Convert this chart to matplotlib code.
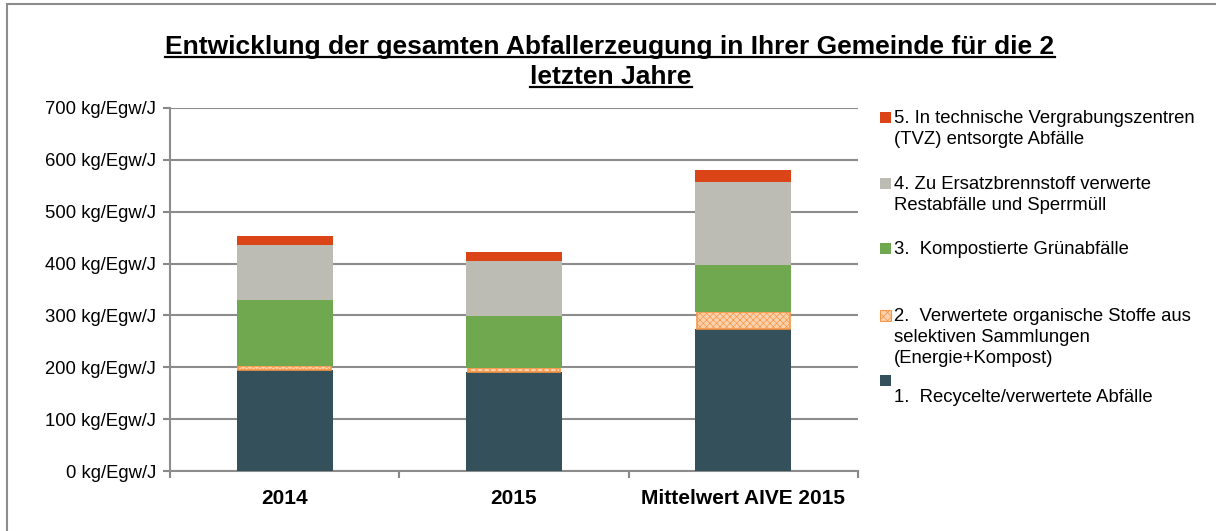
import matplotlib.pyplot as plt
import numpy as np
from matplotlib.patches import Rectangle
from matplotlib.lines import Line2D

plt.rcParams['font.family'] = ['Liberation Sans', 'DejaVu Sans']
plt.rcParams['hatch.linewidth'] = 0.5

categories = ['2014', '2015', 'Mittelwert AIVE 2015']
recycled = [195, 191, 273]
organic = [7, 7, 33]
green_waste = [128, 100, 92]
fuel = [106, 107, 159]
landfill = [17, 18, 23]

series_labels = [
    '1.  Recycelte/verwertete Abfälle',
    '2.  Verwertete organische Stoffe aus\nselektiven Sammlungen\n(Energie+Kompost)',
    '3.  Kompostierte Grünabfälle',
    '4. Zu Ersatzbrennstoff verwerte\nRestabfälle und Sperrmüll',
    '5. In technische Vergrabungszentren\n(TVZ) entsorgte Abfälle',
]
colors = ['#34515b', '#fcd2ae', '#70a84f', '#bcbbb4', '#da4416']
yticks = [0, 100, 200, 300, 400, 500, 600, 700]

fig = plt.figure(figsize=(12.16, 5.31), dpi=100)
ax = fig.add_axes([170 / 1216, 60 / 531, 688 / 1216, 363 / 531])

x = np.arange(len(categories))
width = 0.42
values = [recycled, organic, green_waste, fuel, landfill]
bottom = np.zeros(len(categories))
for i, vals in enumerate(values):
    if i == 1:
        ax.bar(x, vals, width * 0.96, bottom=bottom, color=colors[i],
               edgecolor='#f79646', hatch='xxxxx', linewidth=1.2, zorder=3)
    else:
        ax.bar(x, vals, width, bottom=bottom, color=colors[i], linewidth=0, zorder=3)
    bottom += np.array(vals)

ax.set_xlim(-0.5, 2.5)
ax.set_ylim(0, 700)
ax.set_yticks(yticks)
ax.set_yticklabels([f'{v} kg/Egw/J' for v in yticks], fontsize=13.3)
ax.set_xticks(x)
ax.set_xticklabels(categories, fontsize=15, fontweight='bold')
ax.tick_params(axis='x', length=0, pad=13)
ax.set_xticks([-0.5, 0.5, 1.5, 2.5], minor=True)
ax.tick_params(axis='x', which='minor', length=5, color='#888888', width=1.5)
ax.tick_params(axis='y', length=5, color='#888888', width=1.5, pad=5)
ax.yaxis.grid(True, color='#8c8c8c', linewidth=1.5, zorder=0)
ax.set_axisbelow(True)
for s in ['top', 'right']:
    ax.spines[s].set_visible(False)
ax.spines['left'].set_color('#8c8c8c')
ax.spines['left'].set_linewidth(1.5)
ax.spines['bottom'].set_color('#8c8c8c')
ax.spines['bottom'].set_linewidth(1.5)

# outer frame
fig.patches.append(Rectangle((7 / 1216, -0.1), 1.2, (531 - 4) / 531 + 0.1,
                             transform=fig.transFigure, fill=False,
                             edgecolor='#8c8c8c', linewidth=1.5))

# title with underline
t1 = fig.text(610 / 1216, 1 - 47 / 531,
              'Entwicklung der gesamten Abfallerzeugung in Ihrer Gemeinde für die 2',
              ha='center', va='center', fontsize=19, fontweight='bold')
t2 = fig.text(611 / 1216, 1 - 77 / 531, 'letzten Jahre',
              ha='center', va='center', fontsize=19, fontweight='bold')
renderer = fig.canvas.get_renderer()
for t in (t1, t2):
    bb = t.get_window_extent(renderer).transformed(fig.transFigure.inverted())
    yline = bb.y0 + 0.004
    fig.lines.append(Line2D([bb.x0, bb.x1], [yline, yline], transform=fig.transFigure,
                            color='black', linewidth=1.6))

# legend (top to bottom: 5 .. 1)
leg_y = [117, 183, 248, 315, 380]
for k, idx in enumerate([4, 3, 2, 1, 0]):
    y = 1 - leg_y[k] / 531
    if idx == 1:
        fig.patches.append(Rectangle((880 / 1216, y - 5.5 / 531), 11 / 1216, 11 / 531,
                                     transform=fig.transFigure, facecolor=colors[idx],
                                     edgecolor='#f79646', hatch='xxxx', linewidth=0.8))
    else:
        fig.patches.append(Rectangle((880 / 1216, y - 5.5 / 531), 11 / 1216, 11 / 531,
                                     transform=fig.transFigure, facecolor=colors[idx],
                                     linewidth=0))
    label = series_labels[idx]
    if idx == 0:
        fig.text(894 / 1216, 1 - 397 / 531, label, fontsize=13.3, va='center', ha='left')
    else:
        fig.text(894 / 1216, y + 7 / 531, label, fontsize=13.3, va='top', ha='left',
                 linespacing=1.3)

fig.savefig('out.png', dpi=100)
